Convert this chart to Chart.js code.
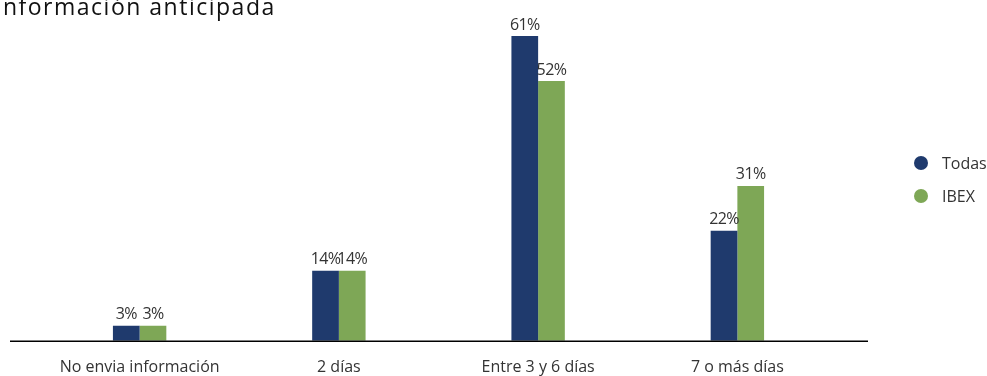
<!DOCTYPE html>
<html>
<head>
<meta charset="utf-8">
<script src="https://cdn.jsdelivr.net/npm/chart.js@4.4.0/dist/chart.umd.min.js"></script>
<style>
  html, body { margin: 0; padding: 0; background: #fff; }
  #wrap { position: relative; width: 987px; height: 376px; overflow: hidden; }
  #legend { position: absolute; left: 914px; top: 146px; font-family: "Open Sans", sans-serif; font-size: 16px; color: #333; }
  #legend div { height: 33px; display: flex; align-items: center; }
  #legend span.dot { display: inline-block; width: 14px; height: 14px; border-radius: 50%; margin-right: 14px; }
</style>
</head>
<body>
<div id="wrap">
  <canvas id="c" width="987" height="394"></canvas>
  <div id="legend"></div>
</div>
<script>
var categories = ['No envia información', '2 días', 'Entre 3 y 6 días', '7 o más días'];
var todas = [3, 14, 61, 22];
var ibex = [3, 14, 52, 31];
var seriesNames = ['Todas', 'IBEX'];
var colors = ['#1f3a6d', '#7ea756'];
var title = 'Información anticipada';

var font = '"Open Sans", sans-serif';

// labels above bars, baseline rule and title
var extras = {
  id: 'extras',
  afterDatasetsDraw: function (chart) {
    var ctx = chart.ctx;
    ctx.save();
    ctx.fillStyle = '#333';
    ctx.font = '16px ' + font;
    ctx.letterSpacing = '-0.6px';
    ctx.textAlign = 'center';
    ctx.textBaseline = 'bottom';
    chart.data.datasets.forEach(function (ds, i) {
      chart.getDatasetMeta(i).data.forEach(function (bar, j) {
        ctx.fillText(ds.data[j] + '%', bar.x, bar.y - 3);
      });
    });
    var a = chart.chartArea;
    ctx.strokeStyle = '#000';
    ctx.lineWidth = 1.5;
    ctx.beginPath();
    ctx.moveTo(a.left - 30, a.bottom + 0.5);
    ctx.lineTo(a.right + 31, a.bottom + 0.5);
    ctx.stroke();
    ctx.font = '23px ' + font;
    ctx.letterSpacing = '1.5px';
    ctx.textAlign = 'left';
    ctx.textBaseline = 'alphabetic';
    ctx.fillStyle = '#111';
    ctx.fillText(title, -5, 15);
    ctx.restore();
  }
};

var chart = new Chart(document.getElementById('c'), {
  type: 'bar',
  data: {
    labels: categories,
    datasets: [
      { label: seriesNames[0], data: todas, backgroundColor: colors[0] },
      { label: seriesNames[1], data: ibex, backgroundColor: colors[1] }
    ]
  },
  options: {
    responsive: false,
    animation: false,
    layout: { padding: { left: 40, right: 150, top: 16, bottom: 0 } },
    datasets: { bar: { categoryPercentage: 0.268, barPercentage: 1 } },
    plugins: { legend: { display: false }, tooltip: { enabled: false } },
    scales: {
      x: {
        grid: { display: false, drawTicks: false },
        border: { display: false },
        ticks: { color: '#333', font: { family: font, size: 16 }, padding: 17 }
      },
      y: { display: false, min: 0, max: 65 }
    }
  },
  plugins: [extras]
});

var lg = document.getElementById('legend');
seriesNames.forEach(function (n, i) {
  var d = document.createElement('div');
  d.innerHTML = '<span class="dot" style="background:' + colors[i] + '"></span>' + n;
  lg.appendChild(d);
});
</script>
</body>
</html>
